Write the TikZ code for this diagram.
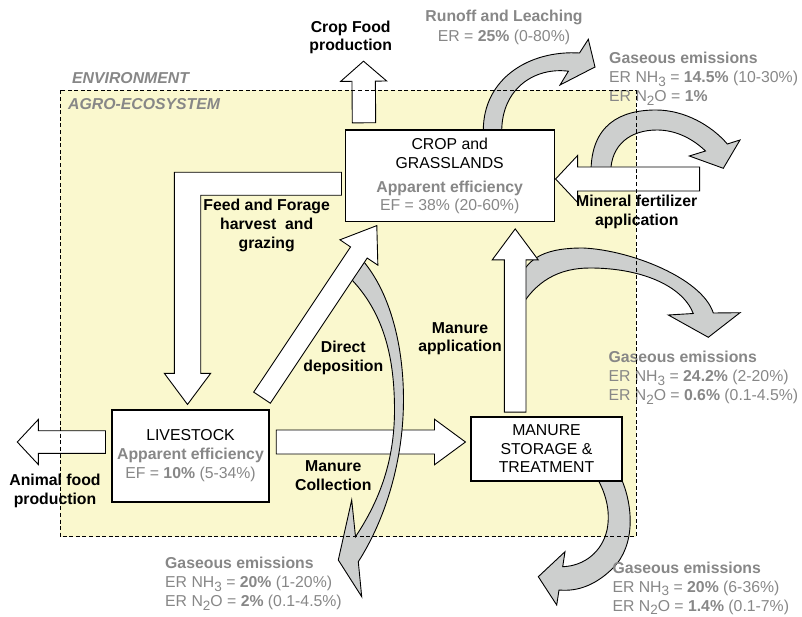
\documentclass[tikz,border=0pt]{standalone}
\usepackage{fontspec}
\setmainfont{Liberation Sans}
\usetikzlibrary{calc}
\definecolor{agro}{RGB}{250,248,206}
\definecolor{emis}{RGB}{205,207,206}
\definecolor{txtgray}{RGB}{135,135,135}
\newcommand\mainfnt{\fontsize{15.8}{19}\selectfont}
\newcommand\sbs[1]{\raisebox{-3.5pt}{\fontsize{13.5}{13.5}\selectfont #1}}
% straight block arrow: [style]{from}{to}{shaft half width}{head half width}{head length}
\newcommand\flowarrow[6][]{%
  \coordinate (bah) at ($(#3)!#6!(#2)$);
  \draw[#1] ($(#2)!#4!90:(#3)$) -- ($(bah)!#4!90:(#3)$) -- ($(bah)!#5!90:(#3)$)
    -- (#3) -- ($(bah)!#5!-90:(#3)$) -- ($(bah)!#4!-90:(#3)$)
    -- ($(#2)!#4!-90:(#3)$) -- cycle;}
\pgfdeclarelayer{bg}
\pgfdeclarelayer{fg}
\pgfdeclarelayer{top}
\pgfsetlayers{bg,main,fg,top}
\tikzset{
  whitearrow/.style={draw=black, fill=white, line width=0.9pt, line join=miter},
  grayarrow/.style={draw=black, fill=emis, line width=0.9pt, line join=miter},
  box/.style={draw=black, fill=white, line width=1.1pt, inner sep=0pt, align=center,
    font=\mainfnt, text=black},
  flowlbl/.style={font=\mainfnt\bfseries, align=center, inner sep=0pt, text=black},
  emislbl/.style={font=\mainfnt, align=left, anchor=west, inner sep=0pt, text=txtgray},
  zonelbl/.style={font=\mainfnt\bfseries\itshape, anchor=west, inner sep=0pt, text=txtgray},
}
\begin{document}
\begin{tikzpicture}[x=1pt, y=-1pt]
\useasboundingbox (0,0) rectangle (802,617);

% ---------- compartments ----------
\begin{pgfonlayer}{fg}
\node[box, minimum width=209.3pt, minimum height=91.7pt] (crop) at (449.7,175.9)
  {CROP and\\GRASSLANDS\\[5pt]\textcolor{txtgray}{\bfseries Apparent efficiency}\\[-1pt]
   \textcolor{txtgray}{EF = 38\% (20-60\%)}};
\node[box, minimum width=157pt, minimum height=92pt] (live) at (190.5,456)
  {LIVESTOCK\\ \textcolor{txtgray}{\bfseries Apparent efficiency}\\
   \textcolor{txtgray}{EF = \textbf{10\%} (5-34\%)}};
\node[box, minimum width=151pt, minimum height=64pt] (manure) at (546.5,449)
  {MANURE\\[-0.5pt]STORAGE \&\\[-0.5pt]TREATMENT};
\end{pgfonlayer}

% ---------- agro-ecosystem area ----------
\begin{pgfonlayer}{bg}
\fill[agro] (60,90.5) rectangle (636,536.7);
\end{pgfonlayer}
\begin{pgfonlayer}{top}
\draw[line width=0.9pt, dash pattern=on 4pt off 2.6pt] (60,90.5) rectangle (636,536.7);
\end{pgfonlayer}

% ---------- arrow end points ----------
\coordinate (cfA) at ($(crop.north)+(-85.7,-6.7)$);
\coordinate (cfB) at ($(crop.north)+(-86.2,-68.3)$);
\coordinate (mfA) at ($(crop.east)+(144.7,3.1)$);
\coordinate (mfB) at ($(crop.east)+(0.7,3.1)$);
\coordinate (maA) at ($(manure.north)+(-31.3,-4.3)$);
\coordinate (maB) at ($(crop.south)+(65.5,6.6)$);
\coordinate (mcA) at ($(live.east)+(6.7,-14)$);
\coordinate (mcB) at ($(manure.west)+(-5,-7)$);
\coordinate (afA) at ($(live.west)+(-6,-14)$);
\coordinate (afB) at (17.3,442);
\coordinate (ddA) at (262,397.7);
\coordinate (ddB) at ($(crop.south west)+(32.3,3.3)$);

% ---------- emissions (curved) and flows ----------
% runoff and leaching from the crop area
\draw[grayarrow] (483.3,131) .. controls (483,78) and (530,50) .. (579.5,53)
  -- (588.3,39.3) -- (595,67) -- (560,85) -- (568.4,71.2)
  .. controls (535,67) and (502,88) .. (501.7,131) -- cycle;

% gaseous losses of mineral fertilizer
\draw[grayarrow] (591,172) .. controls (591,125) and (620,110) .. (656,110)
  .. controls (685,110) and (712,126) .. (727.3,144)
  -- (740,140) -- (723.3,168.3) -- (689.3,156) -- (705.5,151)
  .. controls (692,138) and (675,130) .. (657,130)
  .. controls (630,130) and (611,145) .. (610.7,172) -- cycle;
\flowarrow[whitearrow]{mfA}{mfB}{12pt}{23.5pt}{22pt}

% gaseous losses of manure application
\draw[grayarrow] (518,285) .. controls (525,255) and (550,248) .. (583,248)
  .. controls (630,250) and (702,278) .. (713.3,313)
  -- (740,312.7) -- (708.3,337.3) -- (668.3,315) -- (693.3,313.5)
  .. controls (682,285) and (640,268) .. (590,268)
  .. controls (560,268) and (535,280) .. (518,312) -- cycle;
\flowarrow[whitearrow]{maA}{maB}{10.8pt}{23pt}{31pt}

% gaseous losses of manure storage
\draw[grayarrow] (621,478) .. controls (633,505) and (636,545) .. (613,568)
  .. controls (598,583) and (580,592) .. (559,590)
  -- (556.7,605) -- (538.3,576.7) -- (565,551.7) -- (562.7,566.7)
  .. controls (584,566) and (602,552) .. (607,530)
  .. controls (611,510) and (605,492) .. (597,478) -- cycle;

% manure collection
\flowarrow[whitearrow]{mcA}{mcB}{12pt}{22.8pt}{31pt}

% gaseous losses of livestock housing and grazing
\draw[grayarrow] (364,262) .. controls (395,300) and (405,360) .. (403.3,410)
  .. controls (401.5,465) and (385,520) .. (358.3,561.7)
  -- (361.7,596.7) -- (338.3,560) -- (351.7,500) -- (355.5,536.7)
  .. controls (380,500) and (394.5,460) .. (394.5,410)
  .. controls (394.5,360) and (385,315) .. (352,280) -- cycle;

% direct deposition
\flowarrow[whitearrow]{ddA}{ddB}{10pt}{22.8pt}{32.3pt}

% crop food and animal food production
\flowarrow[whitearrow]{cfA}{cfB}{11.7pt}{23pt}{20pt}
\flowarrow[whitearrow]{afA}{afB}{11.3pt}{22.5pt}{21pt}

% feed and forage harvest and grazing
\draw[whitearrow] ($(crop.west)+(-3,-3.6)$) coordinate (feA) -| (174.3,373.3)
  -- (164.3,373.3) -- ($(live.north)+(-3,-5)$) coordinate (feB) -- (210.7,373.3)
  -- (200.7,373.3) |- ($(crop.west)+(-3,19.4)$) -- cycle;

% ---------- labels ----------
\begin{pgfonlayer}{fg}
\node[zonelbl] (env) at (72,78) {ENVIRONMENT};
\node[zonelbl] (agro) at (68,104) {AGRO-ECOSYSTEM};

\node[flowlbl, font=\fontsize{15.8}{18.3}\selectfont\bfseries] (cfl) at (350.7,37.3) {Crop Food\\production};
\node[flowlbl] (fel) at (266.7,225.5) {Feed and Forage\\harvest \ and\\grazing};
\node[flowlbl] (ddl) at (343.3,358) {Direct\\deposition};
\node[flowlbl, font=\fontsize{15.8}{18.3}\selectfont\bfseries] (mal) at (460,338.5) {Manure\\application};
\node[flowlbl, font=\fontsize{15.8}{18.3}\selectfont\bfseries] (mcl) at (333.3,475.5) {Manure\\Collection};
\node[flowlbl] (afl) at (55,490.8) {Animal food\\production};
\node[flowlbl, font=\fontsize{15.8}{18.4}\selectfont\bfseries] (mfl) at (636.7,211.8) {Mineral fertilizer\\application};

\node[flowlbl, text=txtgray, font=\fontsize{15.8}{19.4}\selectfont] (rll) at (504,27.3)
  {\textbf{Runoff and Leaching}\\ER = \textbf{25\%} (0-80\%)};

\node[emislbl] (ge1) at (609,79)
  {\textbf{Gaseous emissions}\\ER NH\sbs{3} = \textbf{14.5\%} (10-30\%)\\ER N\sbs{2}O = \textbf{1\%}};
\node[emislbl] (ge2) at (608.3,377.8)
  {\textbf{Gaseous emissions}\\ER NH\sbs{3} = \textbf{24.2\%} (2-20\%)\\ER N\sbs{2}O = \textbf{0.6\%} (0.1-4.5\%)};
\node[emislbl] (ge3) at (165,583.8)
  {\textbf{Gaseous emissions}\\ER NH\sbs{3} = \textbf{20\%} (1-20\%)\\ER N\sbs{2}O = \textbf{2\%} (0.1-4.5\%)};
\node[emislbl] (ge4) at (612.3,588.3)
  {\textbf{Gaseous emissions}\\ER NH\sbs{3} = \textbf{20\%} (6-36\%)\\ER N\sbs{2}O = \textbf{1.4\%} (0.1-7\%)};
\end{pgfonlayer}
\end{tikzpicture}
\end{document}
